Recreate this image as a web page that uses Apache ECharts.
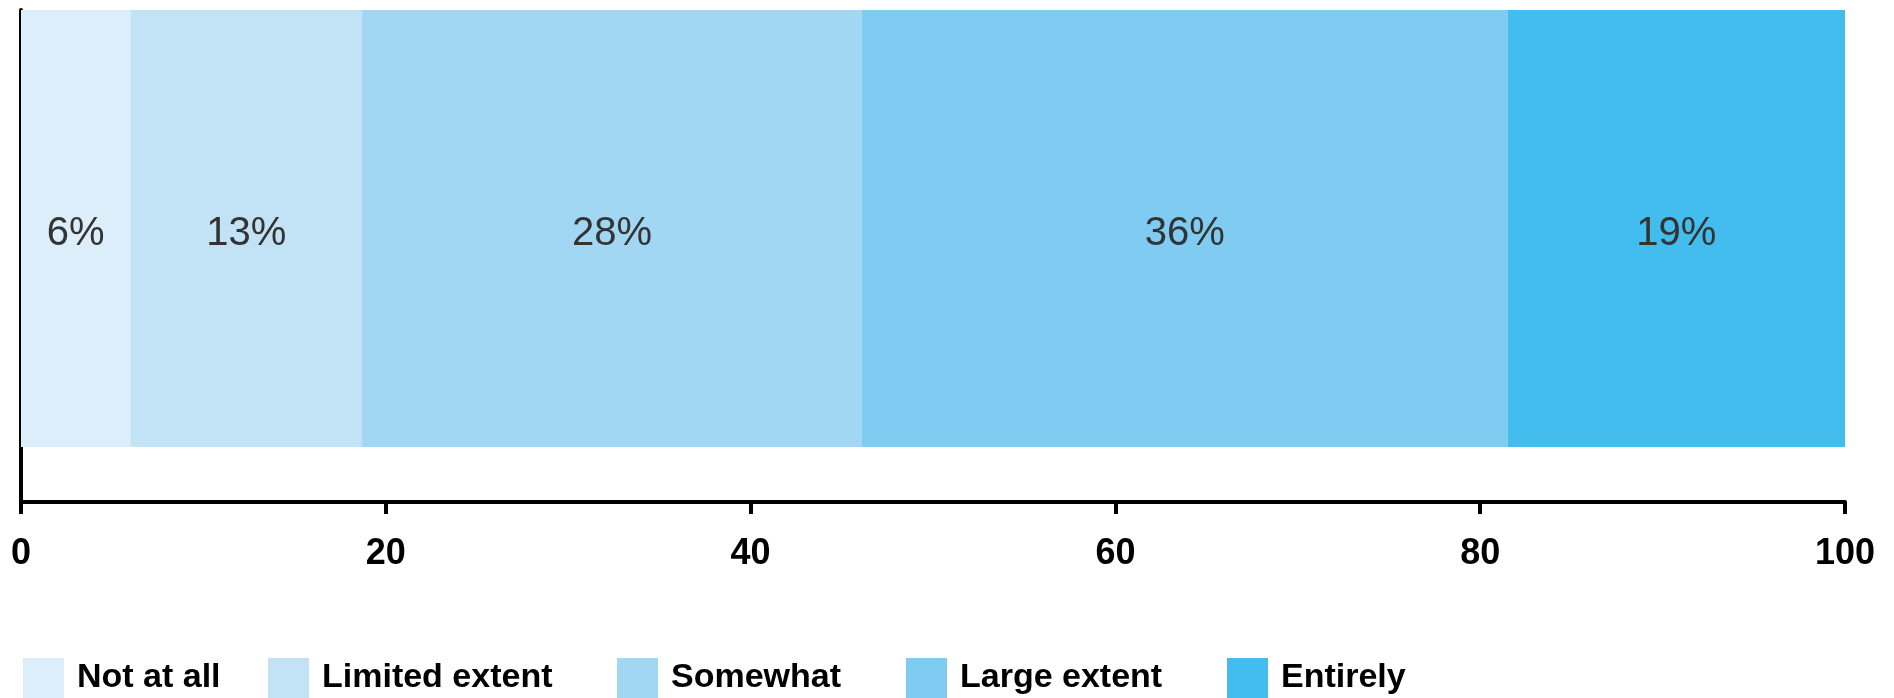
<!DOCTYPE html>
<html>
<head>
<meta charset="utf-8">
<script src="https://cdn.jsdelivr.net/npm/echarts@6/dist/echarts.min.js"></script>
<style>
html,body{margin:0;padding:0;background:#fff;}
#chart{width:1894px;height:698px;}
</style>
</head>
<body>
<div id="chart"></div>
<script>
const categories = ['Not at all', 'Limited extent', 'Somewhat', 'Large extent', 'Entirely'];
const values = [6.0, 12.7, 27.4, 35.4, 18.5];
const valueLabels = ['6%', '13%', '28%', '36%', '19%'];
const colors = ['#DCEEF9', '#C2E3F6', '#A2D7F3', '#7FCBF1', '#42BDED'];
const xTicks = [0, 20, 40, 60, 80, 100];

const legendLeft = [18, 263, 612, 901, 1222];

const chart = echarts.init(document.getElementById('chart'), null, {renderer: 'canvas'});

const series = categories.map((name, i) => ({
  name: name,
  type: 'bar',
  stack: 'total',
  xAxisIndex: 1,
  yAxisIndex: 1,
  barWidth: '100%',
  itemStyle: {color: colors[i]},
  label: {
    show: true,
    position: 'inside',
    offset: [0, 5],
    formatter: () => valueLabels[i],
    fontFamily: 'Liberation Sans, Arial, sans-serif',
    fontSize: 40,
    color: '#333333'
  },
  emphasis: {disabled: true},
  data: [values[i]]
}));

const legends = categories.map((name, i) => ({
  data: [name],
  left: legendLeft[i],
  top: 653,
  itemWidth: 41,
  itemHeight: 40,
  icon: 'rect',
  selectedMode: false,
  textStyle: {
    fontFamily: 'Liberation Sans, Arial, sans-serif',
    fontWeight: 'bold',
    fontSize: 34,
    color: '#000',
    padding: [4, 0, 0, 8]
  }
}));

chart.setOption({
  animation: false,
  backgroundColor: '#ffffff',
  grid: [
    {left: 21, right: 49, top: 10, bottom: 196, containLabel: false},
    {left: 21, right: 49, top: 10, bottom: 251, containLabel: false}
  ],
  xAxis: [
    {
      gridIndex: 0,
      type: 'value',
      min: xTicks[0],
      max: xTicks[xTicks.length - 1],
      interval: xTicks[1] - xTicks[0],
      splitLine: {show: false},
      axisLine: {show: true, lineStyle: {color: '#000', width: 4}},
      axisTick: {show: true, length: 12, lineStyle: {color: '#000', width: 4}},
      axisLabel: {
        show: true,
        margin: 34,
        fontFamily: 'Liberation Sans, Arial, sans-serif',
        fontWeight: 'bold',
        fontSize: 36,
        color: '#000'
      }
    },
    {
      gridIndex: 1,
      type: 'value',
      min: xTicks[0],
      max: xTicks[xTicks.length - 1],
      show: false
    }
  ],
  yAxis: [
    {
      gridIndex: 0,
      type: 'category',
      data: [''],
      axisLine: {show: true, onZero: false, lineStyle: {color: '#000', width: 4}},
      axisTick: {show: false},
      axisLabel: {show: false},
      splitLine: {show: false}
    },
    {
      gridIndex: 1,
      type: 'category',
      data: ['Response'],
      show: false
    }
  ],
  legend: legends,
  series: series
});
</script>
</body>
</html>
